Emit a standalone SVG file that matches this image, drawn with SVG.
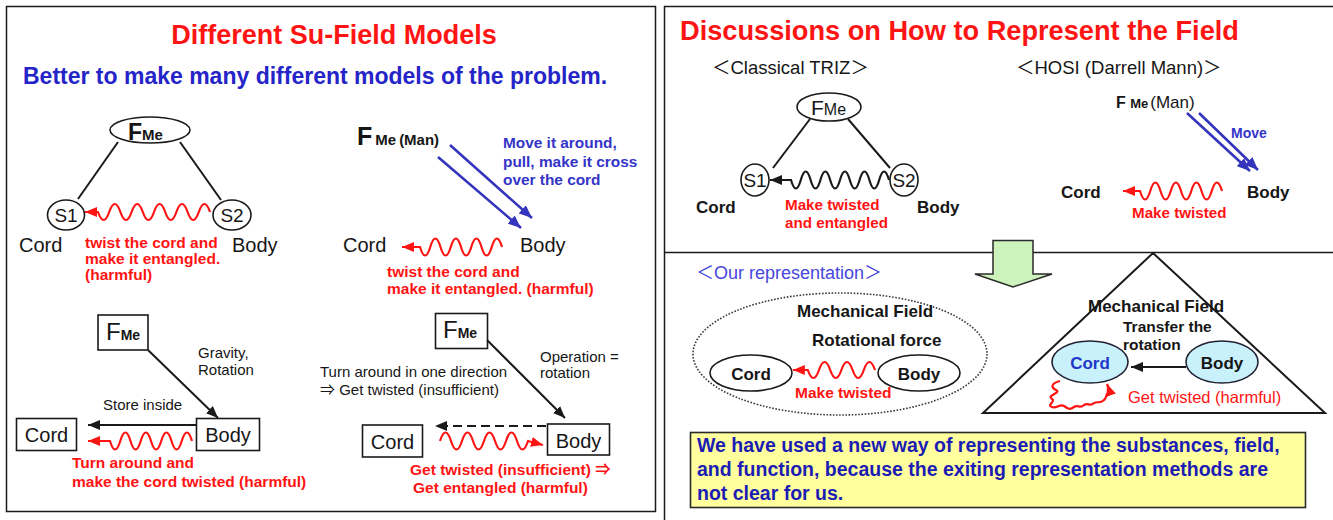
<svg xmlns="http://www.w3.org/2000/svg" width="1333" height="520" viewBox="0 0 1333 520">
<defs>
<style>
text{font-family:"Liberation Sans",Arial,"Noto Sans CJK JP",sans-serif;}
.b{font-weight:bold}
.red{fill:#ff1414}
.blk{fill:#161616}
.blu{fill:#2424c8}
.mid{text-anchor:middle}
.ln{stroke:#1a1a1a;stroke-width:2;fill:none}
.wr{stroke:#ff1414;stroke-width:2.2;fill:none}
.wk{stroke:#1a1a1a;stroke-width:2.2;fill:none}
.wb{stroke:#3434bc;stroke-width:2.6;fill:none}
.box{fill:#fff;stroke:#1a1a1a;stroke-width:1.6}
.frame{fill:none;stroke:#1a1a1a;stroke-width:1.5}
</style>
<marker id="mr" viewBox="0 0 12 10" refX="12" refY="5" markerWidth="12" markerHeight="10" markerUnits="userSpaceOnUse" orient="auto"><path d="M0,0 L12,5 L0,10 z" fill="#ff1414"/></marker>
<marker id="mk" viewBox="0 0 12 10" refX="12" refY="5" markerWidth="12" markerHeight="10" markerUnits="userSpaceOnUse" orient="auto"><path d="M0,0 L12,5 L0,10 z" fill="#1a1a1a"/></marker>
<marker id="mb" viewBox="0 0 12 10" refX="12" refY="5" markerWidth="13" markerHeight="11" markerUnits="userSpaceOnUse" orient="auto"><path d="M0,0 L12,5 L0,10 z" fill="#3434bc"/></marker>
</defs>
<rect width="1333" height="520" fill="#fff"/>

<!-- LEFT PANEL -->
<g id="panel-left">
<rect class="frame" x="6.5" y="6.5" width="649" height="505"/>
<text x="334" y="44" class="b red mid" font-size="27">Different Su-Field Models</text>
<text x="23" y="84" class="b blu" font-size="23">Better to make many different models of the problem.</text>
</g>

<!-- Model 1 -->
<g id="m1-fme"><ellipse class="box" cx="150" cy="130" rx="40" ry="13"/><text x="128" y="140" class="b blk" font-size="23">F<tspan font-size="15">Me</tspan></text></g>
<g id="m1-s1"><ellipse class="box" cx="66" cy="215" rx="18.5" ry="15"/><text x="66" y="222" class="blk mid" font-size="19">S1</text><text x="19" y="252" class="blk" font-size="20">Cord</text></g>
<g id="m1-s2"><ellipse class="box" cx="232" cy="215" rx="19" ry="15"/><text x="232" y="222" class="blk mid" font-size="19">S2</text><text x="232" y="252" class="blk" font-size="20">Body</text></g>
<g id="m1-label"><text class="b red" font-size="15.5"><tspan x="85" y="248">twist the cord and</tspan><tspan x="85" y="264">make it entangled.</tspan><tspan x="85" y="280">(harmful)</tspan></text></g>

<!-- Model 2 -->
<g id="m2-fme"><text x="357" y="145" class="b blk" font-size="25">F<tspan font-size="15" dx="3">Me</tspan><tspan font-size="15" dx="3">(Man)</tspan></text></g>
<g id="m2-label-blue"><text class="b" fill="#3434c8" font-size="15.4"><tspan x="503" y="148">Move it around,</tspan><tspan x="503" y="167">pull, make it cross</tspan><tspan x="503" y="185">over the cord</tspan></text></g>
<g id="m2-cord"><text x="343" y="252" class="blk" font-size="20">Cord</text></g>
<g id="m2-body"><text x="520" y="252" class="blk" font-size="20">Body</text></g>
<g id="m2-label"><text class="b red" font-size="15.5"><tspan x="387" y="277">twist the cord and</tspan><tspan x="387" y="294">make it entangled. (harmful)</tspan></text></g>

<!-- Model 3 -->
<g id="m3-fme"><rect class="box" x="98" y="315" width="50" height="35"/><text x="106" y="340" class="blk" font-size="24">F<tspan class="b" font-size="14">Me</tspan></text></g>
<g id="m3-cord"><rect class="box" x="16.5" y="418.5" width="60" height="32"/><text x="46.5" y="442" class="blk mid" font-size="20">Cord</text></g>
<g id="m3-body"><rect class="box" x="196.5" y="418.5" width="63" height="32"/><text x="228" y="442" class="blk mid" font-size="20">Body</text></g>
<g id="m3-labels"><text class="blk" font-size="15"><tspan x="198" y="358">Gravity,</tspan><tspan x="198" y="375">Rotation</tspan></text>
<text x="103" y="410" class="blk" font-size="15">Store inside</text>
<text class="b red" font-size="15.5"><tspan x="72" y="468">Turn around and</tspan><tspan x="72" y="487">make the cord twisted (harmful)</tspan></text></g>

<!-- Model 4 -->
<g id="m4-fme"><rect class="box" x="435.5" y="313.5" width="52" height="35"/><text x="443" y="338" class="blk" font-size="24">F<tspan class="b" font-size="14">Me</tspan></text></g>
<g id="m4-cord"><rect class="box" x="362.5" y="425" width="60" height="32"/><text x="392.5" y="449" class="blk mid" font-size="20">Cord</text></g>
<g id="m4-body"><rect class="box" x="547.5" y="424" width="62" height="31"/><text x="578.5" y="448" class="blk mid" font-size="20">Body</text></g>
<g id="m4-labels"><text class="blk" font-size="15"><tspan x="540" y="362">Operation =</tspan><tspan x="540" y="378">rotation</tspan></text>
<text class="blk" font-size="15"><tspan x="320" y="377">Turn around in one direction</tspan><tspan x="320" y="395">⇒ Get twisted (insufficient)</tspan></text>
<text class="b red" font-size="15.5"><tspan x="410" y="475">Get twisted (insufficient) ⇒</tspan><tspan x="413" y="493">Get entangled  (harmful)</tspan></text></g>

<!-- RIGHT PANEL -->
<g id="panel-right">
<rect class="frame" x="664.5" y="6.5" width="680" height="520"/>
<line x1="664" y1="252.5" x2="1333" y2="252.5" stroke="#1a1a1a" stroke-width="1.5"/>
<text x="680" y="40" class="b red" font-size="27.2">Discussions on How to Represent the Field</text>
<text x="712" y="74" class="blk" font-size="18.5">＜Classical TRIZ＞</text>
<text x="1016" y="74" class="blk" font-size="18.5">＜HOSI (Darrell Mann)＞</text>
</g>

<g id="c-fme"><ellipse class="box" cx="829" cy="107" rx="32" ry="14"/><text x="811" y="115" class="blk" font-size="21">F<tspan font-size="16">Me</tspan></text></g>
<g id="c-s1"><ellipse class="box" cx="755" cy="180" rx="14" ry="16"/><text x="755" y="187" class="blk mid" font-size="19">S1</text><text x="696" y="213" class="b blk" font-size="17">Cord</text></g>
<g id="c-s2"><ellipse class="box" cx="904" cy="180" rx="14" ry="16"/><text x="904" y="187" class="blk mid" font-size="19">S2</text><text x="917" y="213" class="b blk" font-size="17">Body</text></g>
<g id="c-label"><text class="b red" font-size="15.2"><tspan x="785" y="210">Make twisted</tspan><tspan x="785" y="228">and entangled</tspan></text></g>

<g id="h-fme"><text x="1116" y="108" class="b blk" font-size="16">F <tspan font-size="13">Me</tspan><tspan font-weight="normal" font-size="17" dx="2">(Man)</tspan></text></g>
<g id="h-move"><text x="1231" y="138" class="b" fill="#3434c8" font-size="14">Move</text></g>
<g id="h-cord"><text x="1061" y="198" class="b blk" font-size="17">Cord</text></g>
<g id="h-body"><text x="1247" y="198" class="b blk" font-size="17">Body</text></g>
<g id="h-label"><text x="1132" y="218" class="b red" font-size="15.2">Make twisted</text></g>

<g id="arrow-down"><path d="M993,240.5 H1033 V274 H1052 L1013,287 L975,274 H993 Z" fill="#ccf3bc" stroke="#2a2a2a" stroke-width="1.5"/></g>

<g id="o-title"><text x="696" y="279" fill="#4646dc" font-size="18">＜Our representation＞</text></g>
<g id="o-field"><ellipse cx="840" cy="354" rx="147" ry="61" fill="none" stroke="#3a3a3a" stroke-width="1.6" stroke-dasharray="1.6 1.6"/>
<text x="797" y="317" class="b blk" font-size="17">Mechanical Field</text>
<text x="812" y="346" class="b blk" font-size="17">Rotational force</text></g>
<g id="o-cord"><ellipse class="box" cx="751" cy="373" rx="41" ry="18"/><text x="751" y="380" class="b blk mid" font-size="17">Cord</text></g>
<g id="o-body"><ellipse class="box" cx="919" cy="373" rx="41" ry="18"/><text x="919" y="380" class="b blk mid" font-size="17">Body</text></g>
<g id="o-label"><text x="795" y="398" class="b red" font-size="15.5">Make twisted</text></g>

<g id="t-field"><path d="M1153,253 L1325,413 L983,413 Z" fill="none" stroke="#1a1a1a" stroke-width="2"/>
<text x="1088" y="312" class="b blk" font-size="17">Mechanical Field</text>
<text class="b blk" font-size="15.5"><tspan x="1123" y="332">Transfer the</tspan><tspan x="1123" y="350">rotation</tspan></text></g>
<g id="t-cord"><ellipse cx="1090" cy="362" rx="38" ry="21" fill="#c9f1fb" stroke="#223" stroke-width="1.6"/><text x="1090" y="369" class="b mid" fill="#1f36c8" font-size="17">Cord</text></g>
<g id="t-body"><ellipse cx="1222" cy="362" rx="36" ry="21" fill="#c9f1fb" stroke="#223" stroke-width="1.6"/><text x="1222" y="369" class="b blk mid" font-size="17">Body</text></g>
<g id="t-label"><text x="1128" y="403" class="red" font-size="16.5">Get twisted (harmful)</text></g>

<g id="note"><rect x="690.5" y="432.5" width="615" height="75" fill="#ffff9e" stroke="#2a2a2a" stroke-width="1.6"/>
<text class="b" fill="#1c1cb4" font-size="19.5"><tspan x="697" y="452">We have used a new way of representing the substances, field,</tspan><tspan x="697" y="476">and function, because the exiting representation methods are</tspan><tspan x="697" y="500">not clear for us.</tspan></text></g>

<!-- CONNECTORS -->
<g id="connectors">
<path class="ln" d="M118,142 L78,199"/>
<path class="ln" d="M180,142 L221,200"/>
<path class="wr" marker-end="url(#mr)" d="M210,212 q-5.6,-16 -11.2,0 t-11.2,0 t-11.2,0 t-11.2,0 t-11.2,0 t-11.2,0 t-11.2,0 t-11.2,0 t-11.2,0 t-11.2,0 h-13"/>
<path class="wb" marker-end="url(#mb)" d="M450,145 L532,218"/>
<path class="wb" marker-end="url(#mb)" d="M438,157 L521,228"/>
<path class="wr" marker-end="url(#mr)" d="M502,247 q-5.1,-17 -10.25,0 t-10.25,0 t-10.25,0 t-10.25,0 t-10.25,0 t-10.25,0 t-10.25,0 t-10.25,0 h-18"/>
<path class="ln" marker-end="url(#mk)" d="M148,350 L218,418"/>
<path class="ln" marker-end="url(#mk)" d="M196,425 L88,425"/>
<path class="wr" marker-end="url(#mr)" d="M192,441 q-5.1,-17 -10.25,0 t-10.25,0 t-10.25,0 t-10.25,0 t-10.25,0 t-10.25,0 t-10.25,0 t-10.25,0 h-22"/>
<path class="ln" marker-end="url(#mk)" d="M487,340 L565,418"/>
<path class="ln" stroke-dasharray="9 5" marker-end="url(#mk)" d="M546,426 L435,426"/>
<path class="wr" marker-end="url(#mr)" d="M440,441 q5.5,-17 11,0 t11,0 t11,0 t11,0 t11,0 t11,0 t11,0 t11,0 l15,4"/>
<path class="ln" d="M810,119 L773,168"/>
<path class="ln" d="M848,119 L890,168"/>
<path class="wk" marker-end="url(#mk)" d="M889,180 q-4.9,-17 -9.8,0 t-9.8,0 t-9.8,0 t-9.8,0 t-9.8,0 t-9.8,0 t-9.8,0 t-9.8,0 t-9.8,0 t-9.8,0 h-21"/>
<path class="wb" marker-end="url(#mb)" d="M1187,113 L1250,171"/>
<path class="wb" marker-end="url(#mb)" d="M1199,113 L1258,170"/>
<path class="wr" marker-end="url(#mr)" d="M1222,191 q-5.1,-17 -10.25,0 t-10.25,0 t-10.25,0 t-10.25,0 t-10.25,0 t-10.25,0 t-10.25,0 t-10.25,0 h-17"/>
<path class="wr" marker-end="url(#mr)" d="M875,370 q-5.6,-16 -11.2,0 t-11.2,0 t-11.2,0 t-11.2,0 t-11.2,0 t-11.2,0 h-15"/>
<path class="ln" marker-end="url(#mk)" d="M1186,367 L1131,367"/>
<path class="wr" marker-end="url(#mr)" d="M1060,381 c-8,2 -10,6 -4,9 c6,3 -10,5 -4,9 c4,3 -6,6 0,8 c5,2 8,-4 12,-1 c4,3 6,4 10,1 c4,-3 6,2 10,-2 c4,-3 6,2 10,-2 c4,-2 6,1 10,-3 c4,-3 0,-6 6,-8 l-3,-8"/>
</g>
</svg>
